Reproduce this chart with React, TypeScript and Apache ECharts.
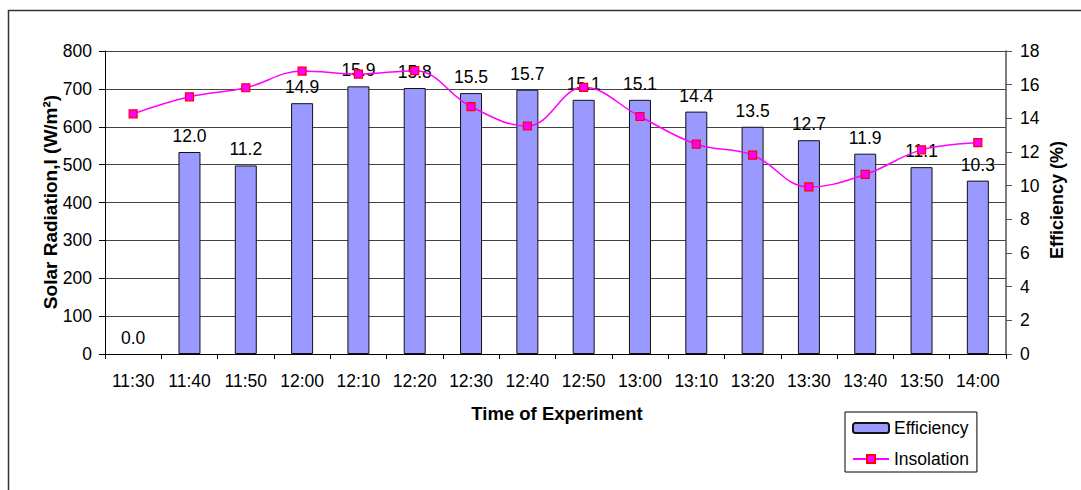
import React, { useEffect, useRef } from "react";
import * as echarts from "echarts";

const categories = ["11:30", "11:40", "11:50", "12:00", "12:10", "12:20", "12:30", "12:40", "12:50", "13:00", "13:10", "13:20", "13:30", "13:40", "13:50", "14:00"];
const efficiency = [0.0, 12.0, 11.2, 14.9, 15.9, 15.8, 15.5, 15.7, 15.1, 15.1, 14.4, 13.5, 12.7, 11.9, 11.1, 10.3];
const insolation = [634, 679, 703, 747, 739, 748, 653, 602, 704, 627, 554, 525, 441, 474, 539, 558];
const leftTicks = { min: 0, max: 800, interval: 100 };
const rightTicks = { min: 0, max: 18, interval: 2 };

const FONT = "'Liberation Sans', Arial, sans-serif";

export default function App() {
  const ref = useRef<HTMLDivElement>(null);
  useEffect(() => {
    if (!ref.current) return;
    const chart = echarts.init(ref.current, undefined, { renderer: "svg" });
    chart.setOption({
      animation: false,
      backgroundColor: "#ffffff",
      textStyle: { fontFamily: FONT, color: "#000" },
      grid: { left: 105, right: 75, top: 51, bottom: 136, containLabel: false },
      graphic: [
        {
          type: "rect",
          shape: { x: 8.5, y: 10.5, width: 1200, height: 600 },
          style: { fill: "none", stroke: "#333", lineWidth: 1.5 },
          silent: true,
        },
        {
          type: "text",
          x: 50,
          y: 202,
          rotation: Math.PI / 2,
          style: {
            text: "Solar Radiation,I (W/m²)",
            font: `bold 19px ${FONT}`,
            fill: "#000",
            textAlign: "center",
            textVerticalAlign: "middle",
          },
        },
        {
          type: "text",
          x: 1057,
          y: 200,
          rotation: Math.PI / 2,
          style: {
            text: "Efficiency (%)",
            font: `bold 18px ${FONT}`,
            fill: "#000",
            textAlign: "center",
            textVerticalAlign: "middle",
          },
        },
        {
          type: "text",
          x: 557,
          y: 413,
          style: {
            text: "Time of Experiment",
            font: `bold 18.5px ${FONT}`,
            fill: "#000",
            textAlign: "center",
            textVerticalAlign: "middle",
          },
        },
      ],
      legend: {
        orient: "vertical",
        left: 845,
        top: 412,
        padding: [7, 8, 4, 7],
        itemGap: 13,
        itemWidth: 36,
        itemHeight: 10,
        borderColor: "#000",
        borderWidth: 1,
        textStyle: { fontFamily: FONT, fontSize: 17.5, color: "#000" },
        data: ["Efficiency", "Insolation"],
      },
      xAxis: {
        type: "category",
        data: categories,
        boundaryGap: true,
        axisLine: { lineStyle: { color: "#000", width: 1 } },
        axisTick: { show: true, length: 5, lineStyle: { color: "#000" } },
        axisLabel: { fontFamily: FONT, fontSize: 17.5, color: "#000", margin: 18, interval: 0 },
        splitLine: { show: false },
      },
      yAxis: [
        {
          type: "value",
          min: leftTicks.min,
          max: leftTicks.max,
          interval: leftTicks.interval,
          axisLine: { show: true, lineStyle: { color: "#000", width: 1 } },
          axisTick: { show: true, length: 6, lineStyle: { color: "#000" } },
          axisLabel: { fontFamily: FONT, fontSize: 17.5, color: "#000", margin: 13 },
          splitLine: { show: true, lineStyle: { color: "#444", width: 1 } },
        },
        {
          type: "value",
          position: "right",
          min: rightTicks.min,
          max: rightTicks.max,
          interval: rightTicks.interval,
          axisLine: { show: true, lineStyle: { color: "#555", width: 1.5 } },
          axisTick: { show: true, length: 6, lineStyle: { color: "#555" } },
          axisLabel: { fontFamily: FONT, fontSize: 17.5, color: "#000", margin: 14 },
          splitLine: { show: false },
        },
      ],
      series: [
        {
          name: "Efficiency",
          type: "bar",
          yAxisIndex: 1,
          data: efficiency.map((v) => (v === 0 ? { value: v, itemStyle: { borderWidth: 0 } } : v)),
          barWidth: 22,
          itemStyle: { color: "#9999FF", borderColor: "#111", borderWidth: 1 },
          label: {
            show: true,
            position: "top",
            distance: 7,
            fontFamily: FONT,
            fontSize: 17.5,
            color: "#000",
            formatter: (p: any) => Number(p.value).toFixed(1),
          },
          z: 2,
        },
        {
          name: "Insolation",
          type: "line",
          yAxisIndex: 0,
          data: insolation,
          smooth: 0.4,
          symbol: "rect",
          symbolSize: 8,
          lineStyle: { color: "#FF00FF", width: 1.5 },
          itemStyle: { color: "#FF00FF", borderColor: "#FF0000", borderWidth: 1.2 },
          z: 3,
        },
      ],
    });
    return () => chart.dispose();
  }, []);
  return <div ref={ref} style={{ position: "absolute", left: 0, top: 0, width: 1081, height: 490 }} />;
}
